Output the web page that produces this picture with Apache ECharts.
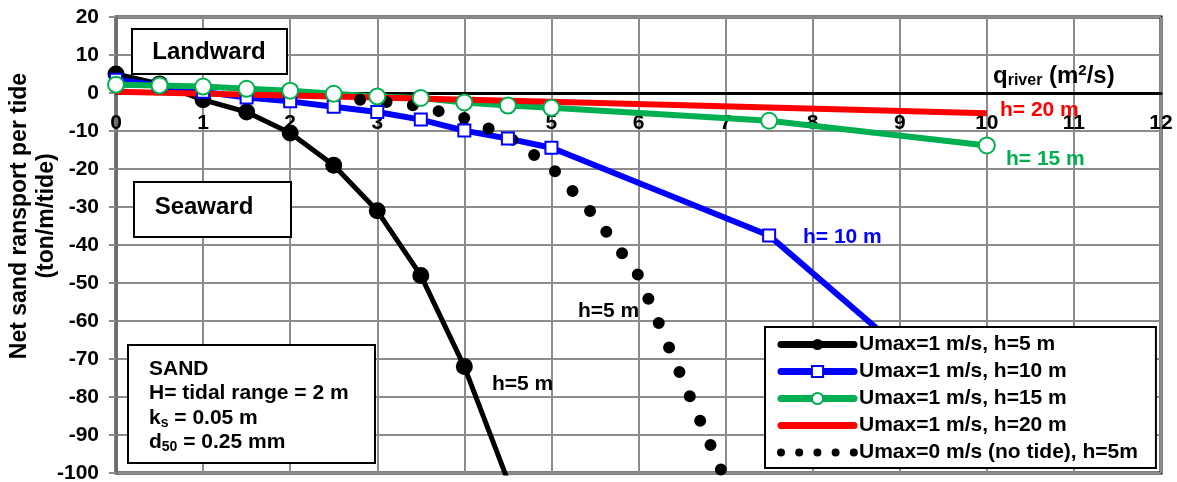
<!DOCTYPE html>
<html>
<head>
<meta charset="utf-8">
<script src="https://cdn.jsdelivr.net/npm/echarts@6/dist/echarts.min.js"></script>
<style>html,body{margin:0;padding:0;background:#fff;}#c{width:1177px;height:482px;}</style>
</head>
<body>
<div id="c"></div>
<script>
// ---- data ----
const xTide = [0, 0.5, 1, 1.5, 2, 2.5, 3, 3.5, 4, 4.5, 5, 7.5, 10];
const xH5 = [0, 0.5, 1, 1.5, 2, 2.5, 3, 3.5, 4, 4.5];
const yH5 = [5, 2.4, -1.8, -5, -10.5, -19, -31, -48, -72, -102];
const yH10 = [3.5, 2, 0.3, -1.2, -2.2, -3.6, -5, -7, -9.9, -12, -14.4, -37.5, -87];
const yH15 = [2.2, 2.0, 1.7, 1.1, 0.6, -0.2, -0.9, -1.3, -2.5, -3.3, -3.9, -7.3, -13.8];
const xH20 = [0, 2.5, 5, 7.5, 10];
const yH20 = [0.3, -0.9, -2.3, -3.8, -5.3];
const xNoTide = [2.5, 3, 3.5, 4, 4.5, 5, 5.5, 6, 6.5, 7];
const yNoTide = [-1.3, -2.1, -3.5, -6.6, -11.5, -19.5, -32.5, -48, -75, -102];
const seriesNames = ['Umax=1 m/s, h=5 m', 'Umax=1 m/s, h=10 m', 'Umax=1 m/s, h=15 m', 'Umax=1 m/s, h=20 m', 'Umax=0 m/s (no tide), h=5m'];
const xTicks = {min: 0, max: 12, interval: 1};
const yTicks = {min: -100, max: 20, interval: 10};

const FF = '"Liberation Sans", Arial, sans-serif';
const pairs = (xs, ys) => xs.map((x, i) => [x, ys[i]]);
const GREEN = '#00b050';

const GRID_TOP = 17, GRID_BOTTOM = 9, H = 482;
const plotH = H - GRID_TOP - GRID_BOTTOM;
// offset of x axis so it sits on y = 0
const zeroOffset = -plotH * (0 - yTicks.min) / (yTicks.max - yTicks.min);

const chart = echarts.init(document.getElementById('c'), null, {renderer: 'canvas'});
const opt = {
  animation: false,
  backgroundColor: '#fff',
  grid: {left: 116, right: 16, top: GRID_TOP, bottom: GRID_BOTTOM, containLabel: false, outerBoundsMode: 'none',
         show: true, borderColor: '#000', borderWidth: 3, backgroundColor: 'transparent'},
  xAxis: [{
    type: 'value', min: xTicks.min, max: xTicks.max, interval: xTicks.interval,
    position: 'bottom', offset: zeroOffset,
    axisLine: {onZero: false, lineStyle: {color: '#000', width: 3}},
    axisTick: {show: false},
    axisLabel: {showMinLabel: true, showMaxLabel: true, margin: 20, color: '#000', fontSize: 21, fontWeight: 'bold', fontFamily: FF},
    splitLine: {show: true, lineStyle: {color: '#8c8c8c', width: 2}}
  }],
  yAxis: {
    type: 'value', min: yTicks.min, max: yTicks.max, interval: yTicks.interval,
    axisLine: {show: true, onZero: false, lineStyle: {color: '#6e6e6e', width: 3}},
    axisTick: {show: true, length: 7, lineStyle: {color: '#8c8c8c', width: 2}},
    axisLabel: {margin: 17, color: '#000', fontSize: 21, fontWeight: 'bold', fontFamily: FF},
    splitLine: {show: true, lineStyle: {color: '#8c8c8c', width: 2}}
  },
  legend: {
    left: 765, top: 327, orient: 'vertical', z: 10,
    itemWidth: 73, itemHeight: 14, itemGap: 6,
    padding: [7, 18, 5, 12],
    borderColor: '#000', borderWidth: 2, backgroundColor: '#fff',
    textStyle: {fontSize: 21, fontWeight: 'bold', color: '#000', fontFamily: FF},
    data: [
      {name: seriesNames[0], lineStyle: {width: 7, cap: 'round'}},
      {name: seriesNames[1], lineStyle: {width: 7, cap: 'round'}},
      {name: seriesNames[2], lineStyle: {width: 7, cap: 'round'}},
      {name: seriesNames[3], lineStyle: {width: 7, cap: 'round'}, itemStyle: {opacity: 0}},
      {name: seriesNames[4], lineStyle: {type: [0, 18.2], width: 8, cap: 'round', color: '#000'}, itemStyle: {opacity: 0}}
    ]
  },
  series: [
    {name: seriesNames[0], type: 'line', data: pairs(xH5, yH5), symbol: 'circle', symbolSize: 17,
     itemStyle: {color: '#000'}, lineStyle: {color: '#000', width: 5}},
    {name: seriesNames[1], type: 'line', data: pairs(xTide, yH10), symbol: 'emptyRect', symbolSize: 12,
     itemStyle: {color: '#0000ff', borderWidth: 3}, lineStyle: {color: '#0000ff', width: 6}},
    {name: seriesNames[2], type: 'line', data: pairs(xTide, yH15), symbol: 'emptyCircle', symbolSize: 16,
     itemStyle: {color: GREEN, borderWidth: 3}, lineStyle: {color: GREEN, width: 6}},
    {name: seriesNames[3], type: 'line', data: pairs(xH20, yH20), symbol: 'none', showSymbol: false,
     itemStyle: {color: '#ff0000'}, lineStyle: {color: '#ff0000', width: 6}},
    {name: seriesNames[4], type: 'line', data: pairs(xNoTide, yNoTide), symbol: 'none', showSymbol: false,
     itemStyle: {color: '#000'}, lineStyle: {color: '#000', width: 12, type: [0, 26.5], cap: 'round'}}
  ],
  graphic: [
    {type: 'rect', z: 20, shape: {x: 132, y: 29, width: 155, height: 45}, style: {fill: '#fff', stroke: '#000', lineWidth: 2}},
    {type: 'text', z: 21, x: 209, y: 52, style: {text: 'Landward', font: 'bold 24px ' + FF, fill: '#000', textAlign: 'center', textVerticalAlign: 'middle'}},
    {type: 'rect', z: 20, shape: {x: 134, y: 182, width: 157, height: 55}, style: {fill: '#fff', stroke: '#000', lineWidth: 2}},
    {type: 'text', z: 21, x: 204, y: 207, style: {text: 'Seaward', font: 'bold 24px ' + FF, fill: '#000', textAlign: 'center', textVerticalAlign: 'middle'}},
    {type: 'rect', z: 20, shape: {x: 128, y: 345, width: 247, height: 118}, style: {fill: '#fff', stroke: '#000', lineWidth: 2}},
    {type: 'text', z: 21, x: 149, y: 369, style: {text: 'SAND', font: 'bold 21px ' + FF, fill: '#000', textAlign: 'left', textVerticalAlign: 'middle'}},
    {type: 'text', z: 21, x: 149, y: 393, style: {text: 'H= tidal range = 2 m', font: 'bold 21px ' + FF, fill: '#000', textAlign: 'left', textVerticalAlign: 'middle'}},
    {type: 'text', z: 21, x: 149, y: 418, style: {text: '{b|k}{s|s}{b| = 0.05 m}', textAlign: 'left', textVerticalAlign: 'middle',
      rich: {b: {fontSize: 21, fontWeight: 'bold', fontFamily: FF, lineHeight: 24, color: '#000'},
             s: {fontSize: 14, fontWeight: 'bold', fontFamily: FF, lineHeight: 14, verticalAlign: 'bottom', color: '#000'}}}},
    {type: 'text', z: 21, x: 149, y: 442, style: {text: '{b|d}{s|50}{b| = 0.25 mm}', textAlign: 'left', textVerticalAlign: 'middle',
      rich: {b: {fontSize: 21, fontWeight: 'bold', fontFamily: FF, lineHeight: 24, color: '#000'},
             s: {fontSize: 14, fontWeight: 'bold', fontFamily: FF, lineHeight: 14, verticalAlign: 'bottom', color: '#000'}}}},
    {type: 'text', z: 21, x: 993, y: 76, style: {text: '{b|q}{s|river}{b| (m}{p|2}{b|/s)}', textAlign: 'left', textVerticalAlign: 'middle',
      rich: {b: {fontSize: 24, fontWeight: 'bold', fontFamily: FF, lineHeight: 26, color: '#000'},
             s: {fontSize: 16, fontWeight: 'bold', fontFamily: FF, lineHeight: 16, verticalAlign: 'bottom', color: '#000'},
             p: {fontSize: 15, fontWeight: 'bold', fontFamily: FF, lineHeight: 15, verticalAlign: 'top', color: '#000'}}}},
    {type: 'text', z: 21, x: 1000, y: 110, style: {text: 'h= 20 m', font: 'bold 21px ' + FF, fill: '#ff0000', textAlign: 'left', textVerticalAlign: 'middle'}},
    {type: 'text', z: 21, x: 1006, y: 159, style: {text: 'h= 15 m', font: 'bold 21px ' + FF, fill: GREEN, textAlign: 'left', textVerticalAlign: 'middle'}},
    {type: 'text', z: 21, x: 803, y: 237, style: {text: 'h= 10 m', font: 'bold 21px ' + FF, fill: '#0000ff', textAlign: 'left', textVerticalAlign: 'middle'}},
    {type: 'text', z: 21, x: 578, y: 311, style: {text: 'h=5 m', font: 'bold 21px ' + FF, fill: '#000', textAlign: 'left', textVerticalAlign: 'middle'}},
    {type: 'text', z: 21, x: 492, y: 384, style: {text: 'h=5 m', font: 'bold 21px ' + FF, fill: '#000', textAlign: 'left', textVerticalAlign: 'middle'}},
    {type: 'text', z: 21, x: 20, y: 216, rotation: Math.PI / 2, style: {text: 'Net sand ransport per tide', font: 'bold 23px ' + FF, fill: '#000', textAlign: 'center', textVerticalAlign: 'middle'}},
    {type: 'text', z: 21, x: 47, y: 216, rotation: Math.PI / 2, style: {text: '(ton/m/tide)', font: 'bold 23px ' + FF, fill: '#000', textAlign: 'center', textVerticalAlign: 'middle'}}
  ]
};
chart.setOption(opt);
</script>
</body>
</html>
